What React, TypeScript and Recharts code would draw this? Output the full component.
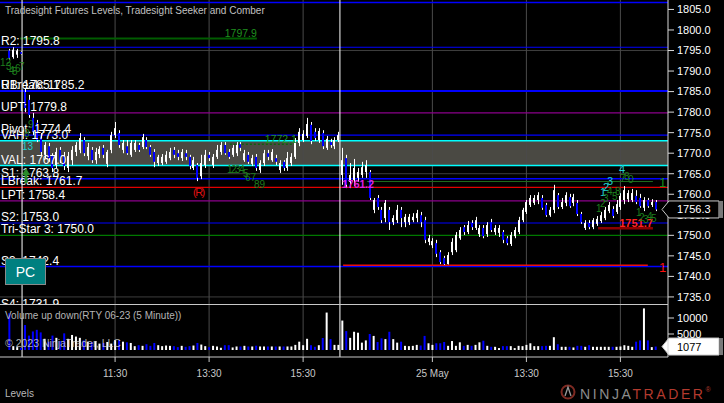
import { Bar, Cell, ComposedChart, ReferenceArea, ReferenceLine, XAxis, YAxis } from "recharts";

const FONT = '"Liberation Sans", Arial, sans-serif';
const BLUE = "#0000ff";
const PURPLE = "#8b008b";
const CYAN = "#00ffff";
const RED = "#e00000";
const GREEN = "#007800";
const NOTE_GREEN = "#1d7d1d";
const NOTE_CYAN = "#22d0d0";

// 5-minute RTY 06-23 bars; index 0 = 24 May 09:35, index 81 = 25 May 09:35
const FIRST_INDEX = -4;

// open, high, low, close
const CANDLES: [number, number, number, number][] = [
  [1795.0, 1795.4, 1792.8, 1793.2], [1793.4, 1795.8, 1793.0, 1795.2], [1794.0, 1795.4, 1793.2, 1795.0], [1794.6, 1794.8, 1794.0, 1794.2],
  [1784.9, 1785.9, 1780.0, 1781.0], [1783.0, 1784.2, 1778.6, 1779.3], [1778.6, 1779.8, 1774.4, 1775.2], [1777.4, 1778.1, 1772.7, 1773.2],
  [1773.7, 1774.9, 1769.3, 1770.3], [1769.6, 1772.7, 1768.8, 1772.0], [1771.7, 1772.5, 1767.9, 1768.8], [1769.3, 1770.0, 1765.4, 1766.4],
  [1767.1, 1771.3, 1766.4, 1770.3], [1770.8, 1771.5, 1767.6, 1768.3], [1769.3, 1770.3, 1765.9, 1766.9], [1766.4, 1770.3, 1765.4, 1769.3],
  [1768.3, 1771.7, 1767.1, 1770.8], [1770.3, 1772.7, 1769.3, 1772.0], [1770.8, 1774.9, 1770.0, 1773.7], [1773.2, 1773.9, 1769.3, 1770.0],
  [1769.3, 1772.5, 1768.3, 1771.5], [1770.8, 1771.5, 1767.6, 1768.3], [1768.3, 1771.3, 1767.4, 1770.3], [1769.8, 1771.7, 1768.8, 1771.0],
  [1771.3, 1772.0, 1768.8, 1769.6], [1767.4, 1770.8, 1766.6, 1770.3], [1770.8, 1775.2, 1770.0, 1774.4], [1774.4, 1777.6, 1773.7, 1776.1],
  [1774.9, 1775.6, 1771.3, 1772.0], [1770.8, 1773.2, 1770.0, 1772.5], [1771.7, 1773.2, 1769.6, 1770.0], [1769.6, 1773.2, 1769.1, 1772.5],
  [1770.8, 1773.2, 1770.3, 1772.5], [1772.0, 1772.5, 1770.3, 1770.8], [1771.5, 1774.7, 1771.0, 1773.9], [1773.2, 1773.9, 1771.0, 1771.5],
  [1771.5, 1772.0, 1769.1, 1769.6], [1770.3, 1771.0, 1766.6, 1767.9], [1767.6, 1769.6, 1766.9, 1769.1], [1767.6, 1769.8, 1767.1, 1769.1],
  [1767.9, 1770.5, 1767.4, 1769.6], [1768.8, 1771.3, 1768.3, 1770.3], [1770.8, 1771.5, 1768.8, 1769.6], [1770.0, 1770.8, 1768.3, 1769.1],
  [1768.8, 1771.0, 1768.1, 1770.3], [1770.0, 1770.8, 1768.3, 1769.1], [1769.1, 1769.6, 1766.1, 1766.9], [1766.4, 1769.1, 1765.9, 1768.3],
  [1767.1, 1767.6, 1763.2, 1764.0], [1764.4, 1769.6, 1763.7, 1767.6], [1767.1, 1770.8, 1766.4, 1769.6], [1769.6, 1770.3, 1768.1, 1768.8],
  [1767.1, 1769.8, 1766.4, 1769.1], [1769.1, 1772.0, 1768.6, 1770.8], [1770.3, 1772.7, 1769.6, 1772.0], [1772.0, 1772.7, 1769.6, 1770.0],
  [1770.3, 1771.0, 1768.6, 1769.1], [1769.6, 1772.0, 1769.1, 1771.3], [1770.0, 1772.7, 1769.3, 1772.0], [1772.2, 1772.7, 1770.5, 1771.3],
  [1768.3, 1770.8, 1767.9, 1770.0], [1769.6, 1770.3, 1767.4, 1767.9], [1767.4, 1769.6, 1766.9, 1768.8], [1769.1, 1769.8, 1765.7, 1766.4],
  [1765.9, 1768.3, 1765.2, 1767.6], [1767.6, 1770.8, 1766.9, 1770.0], [1770.0, 1770.8, 1768.3, 1769.1], [1768.3, 1771.0, 1767.9, 1770.3],
  [1768.8, 1769.6, 1767.1, 1767.9], [1765.9, 1768.3, 1765.2, 1767.6], [1767.9, 1768.3, 1765.7, 1766.4], [1766.4, 1770.3, 1765.7, 1768.8],
  [1767.6, 1770.0, 1766.9, 1769.1], [1769.1, 1773.7, 1768.6, 1772.7], [1772.5, 1776.1, 1771.7, 1775.2], [1773.2, 1775.6, 1772.7, 1774.7],
  [1774.2, 1778.6, 1773.7, 1777.1], [1776.9, 1777.6, 1772.2, 1773.0], [1775.2, 1776.1, 1773.0, 1773.7], [1773.2, 1776.1, 1772.5, 1775.4],
  [1774.9, 1775.6, 1771.0, 1771.7], [1771.3, 1774.2, 1770.8, 1773.5], [1772.7, 1773.5, 1771.3, 1772.0], [1771.7, 1773.9, 1771.0, 1773.2],
  [1773.2, 1775.2, 1772.7, 1774.4],
  [1764.7, 1771.3, 1762.3, 1768.3], [1768.8, 1769.6, 1761.5, 1762.3], [1763.0, 1767.6, 1761.5, 1764.7], [1763.5, 1768.6, 1762.0, 1766.4],
  [1764.0, 1766.4, 1763.0, 1765.4], [1764.7, 1767.9, 1764.0, 1766.6], [1765.4, 1768.3, 1764.0, 1767.1], [1765.4, 1765.9, 1758.6, 1759.1],
  [1756.2, 1759.1, 1755.4, 1758.6], [1759.1, 1759.8, 1756.2, 1756.9], [1756.2, 1756.9, 1753.0, 1753.7], [1754.2, 1758.6, 1753.2, 1757.9],
  [1756.2, 1756.9, 1751.3, 1753.2], [1753.2, 1754.9, 1752.5, 1754.2], [1753.7, 1757.4, 1753.0, 1756.2], [1756.2, 1756.9, 1752.0, 1754.2],
  [1753.2, 1755.2, 1752.0, 1754.5], [1753.2, 1755.2, 1752.5, 1754.5], [1753.7, 1755.4, 1753.2, 1754.5], [1754.2, 1756.2, 1753.2, 1755.4],
  [1754.9, 1755.7, 1752.0, 1753.2], [1753.7, 1754.5, 1748.1, 1748.9], [1748.4, 1750.1, 1747.6, 1749.3], [1747.6, 1749.3, 1746.9, 1748.6],
  [1748.1, 1748.9, 1744.7, 1745.5], [1745.9, 1746.4, 1743.0, 1743.5], [1744.5, 1745.0, 1742.8, 1743.0], [1743.0, 1745.9, 1742.9, 1745.2],
  [1745.9, 1749.3, 1745.2, 1748.4], [1746.4, 1750.8, 1745.9, 1750.1], [1749.3, 1752.0, 1748.9, 1751.3], [1752.0, 1752.5, 1750.1, 1750.8],
  [1750.8, 1753.5, 1750.3, 1752.5], [1753.0, 1753.7, 1751.3, 1752.0], [1751.8, 1754.5, 1751.3, 1753.7], [1750.3, 1752.5, 1749.6, 1751.8],
  [1751.8, 1752.5, 1749.3, 1749.8], [1750.3, 1753.2, 1749.6, 1752.5], [1753.2, 1754.0, 1750.8, 1751.3], [1750.8, 1752.5, 1750.1, 1751.8],
  [1750.6, 1752.5, 1749.6, 1751.8], [1750.8, 1751.3, 1748.1, 1748.9], [1749.3, 1749.8, 1747.6, 1748.1], [1747.9, 1750.8, 1747.4, 1750.1],
  [1749.8, 1752.0, 1749.3, 1751.3], [1750.8, 1754.5, 1750.3, 1753.7], [1753.7, 1756.7, 1753.2, 1756.2], [1755.7, 1758.6, 1755.2, 1758.1],
  [1757.4, 1759.8, 1756.9, 1759.1], [1757.9, 1759.8, 1757.4, 1759.1], [1758.6, 1760.5, 1757.6, 1759.8], [1759.1, 1759.8, 1756.2, 1756.7],
  [1757.4, 1757.9, 1754.5, 1754.9], [1754.9, 1756.9, 1754.5, 1756.2], [1756.2, 1762.3, 1755.4, 1761.0], [1759.8, 1760.3, 1756.4, 1756.9],
  [1756.9, 1759.1, 1756.4, 1758.1], [1757.9, 1760.5, 1757.1, 1759.8], [1759.3, 1760.1, 1756.7, 1757.1], [1757.9, 1760.1, 1757.1, 1759.3],
  [1757.9, 1758.6, 1754.7, 1755.2], [1755.2, 1755.7, 1752.8, 1753.2], [1751.8, 1753.7, 1751.3, 1753.0], [1753.0, 1753.7, 1751.5, 1752.0],
  [1752.0, 1754.2, 1751.5, 1753.7], [1752.8, 1754.7, 1752.3, 1754.0], [1753.5, 1755.7, 1753.0, 1754.9], [1754.2, 1756.9, 1753.7, 1756.2],
  [1755.9, 1758.1, 1755.4, 1757.4], [1756.4, 1757.1, 1754.2, 1754.7], [1755.7, 1758.6, 1755.2, 1757.6], [1756.9, 1760.3, 1756.2, 1759.6],
  [1758.6, 1762.0, 1757.6, 1761.0], [1758.8, 1761.0, 1758.1, 1760.3], [1758.6, 1761.3, 1758.1, 1760.3], [1759.6, 1761.0, 1757.6, 1758.1],
  [1759.1, 1760.1, 1756.7, 1757.1], [1756.7, 1759.3, 1755.9, 1758.6], [1758.6, 1759.1, 1756.7, 1757.1], [1757.4, 1758.8, 1756.9, 1758.1],
  [1758.1, 1758.6, 1755.9, 1756.3],
];

const VOLUMES = [
  11500, 1200, 900, 700,
  7800, 4500, 5800, 6300, 5500, 3500, 2600, 4500, 3800, 2800, 5200, 3500, 4700, 4200, 3800, 3000,
  2600, 2500, 2800, 2000, 2200, 2500, 2000, 3100, 3100, 2600, 2400, 2200, 1200, 1500, 1300, 1800,
  1300, 2200, 1500, 1200, 1400, 1300, 1200, 900, 1300, 1000, 1200, 1400, 2200, 1700, 1200, 900,
  1300, 1100, 700, 1500, 1500, 800, 1100, 1100, 1300, 1100, 1100, 1300, 1100, 1100, 1100, 1100,
  1100, 1100, 1100, 1100, 1100, 1600, 2600, 1500, 3500, 1500, 1000, 1500, 3750, 11700, 3400, 1600,
  1600,
  9200, 5900, 3800, 5700, 5400, 2300, 3000, 5000, 4400, 2500, 3650, 3400, 5700, 3400, 2300, 2600,
  1300, 1200, 1300, 1600, 1400, 4400, 2100, 1600, 2100, 2100, 2500, 1300, 2800, 1300, 2400, 1300,
  1600, 1300, 1600, 2400, 2900, 1300, 1000, 1000, 600, 1200, 1200, 1200, 600, 1300, 1200, 1600,
  2100, 1200, 1200, 1200, 1300, 1300, 4000, 1800, 1000, 1000, 1000, 800, 1300, 1300, 1000, 1500,
  1000, 1000, 1000, 1000, 1000, 1000, 1000, 1100, 1500, 1300, 1000, 2600, 3000, 13000, 3000, 900,
  1077,
];

const TIME_TICKS = [23, 47, 71, 104, 128, 152];
const TIME_LABELS = ["11:30", "13:30", "15:30", "25 May", "13:30", "15:30"];
const SESSION_STARTS = [-0.75, 80.4];
const PRICE_TICKS = [1735, 1740, 1745, 1750, 1755, 1760, 1765, 1770, 1775, 1780, 1785, 1790, 1795, 1800, 1805];
const GRID_PRICES = [1735, 1765, 1795];
const VOLUME_TICKS = [5000, 10000];

const VALUE_AREA = { low: 1767.0, high: 1773.0 };

const LEVELS = [
  { p: 1806.7, name: "", color: BLUE, w: 1.5 },
  { p: 1795.8, name: "R2", color: BLUE, w: 1.2 },
  { p: 1785.1, name: "R1", color: BLUE, w: 1.5 },
  { p: 1785.2, name: "UBreak", color: BLUE, w: 1.5 },
  { p: 1779.8, name: "UPT", color: PURPLE, w: 1.2 },
  { p: 1774.4, name: "Pivot", color: BLUE, w: 1.2 },
  { p: 1773.0, name: "VAH", color: CYAN, w: 1.5 },
  { p: 1767.0, name: "VAL", color: CYAN, w: 1.5 },
  { p: 1763.8, name: "S1", color: BLUE, w: 1.5 },
  { p: 1761.7, name: "LBreak", color: RED, w: 1.2 },
  { p: 1758.4, name: "LPT", color: PURPLE, w: 1.2 },
  { p: 1753.0, name: "S2", color: BLUE, w: 1.2 },
  { p: 1750.0, name: "Tri-Star 3", color: GREEN, w: 1.2 },
  { p: 1742.4, name: "S3", color: BLUE, w: 1.5 },
  { p: 1731.9, name: "S4", color: BLUE, w: 1.5 },
];

// Seeker / Comber lines drawn over part of the session
const SEGMENTS = [
  { p: 1797.9, from: -1.3, to: 59.2, color: "#005c00", w: 2, dash: "", text: "1797.9", textColor: "#1f8f1f", bold: false },
  { p: 1772.2, from: 52.3, to: 69.4, color: "#0e600e", w: 1.5, dash: "2 2", text: "1772.1", textColor: "#1f8f1f", bold: false },
  { p: 1761.2, from: -6.4, to: 88, color: "#8e008e", w: 2.5, dash: "2 2", text: "", textColor: "", bold: false },
  { p: 1763.1, from: 87.3, to: 160.3, color: "#1d6b1d", w: 1, dash: "", text: "", textColor: "", bold: false },
  { p: 1742.7, from: 81.2, to: 159, color: "#e81010", w: 1.5, dash: "", text: "", textColor: "", bold: false },
  { p: 1751.7, from: 146.3, to: 160.3, color: "#8b0000", w: 2.5, dash: "", text: "1751.7", textColor: "#ff2020", bold: true },
];

const NOTES = [
  { x: 0, y: 66, t: "12", c: NOTE_GREEN, s: 10 },
  { x: 6, y: 70, t: "3", c: NOTE_GREEN, s: 10 },
  { x: 9, y: 74, t: "4", c: NOTE_GREEN, s: 10 },
  { x: 12, y: 75, t: "5", c: NOTE_GREEN, s: 10 },
  { x: 15, y: 72, t: "6", c: NOTE_GREEN, s: 10 },
  { x: 19, y: 70, t: "7", c: NOTE_GREEN, s: 10 },
  { x: 28, y: 128, t: "9", c: NOTE_GREEN, s: 10 },
  { x: 24, y: 137, t: "8", c: NOTE_GREEN, s: 10 },
  { x: 22, y: 150, t: "13", c: NOTE_CYAN, s: 10 },
  { x: 227, y: 173, t: "1234", c: NOTE_GREEN, s: 10 },
  { x: 243, y: 177, t: "5", c: NOTE_GREEN, s: 10 },
  { x: 245, y: 181, t: "67", c: NOTE_GREEN, s: 10 },
  { x: 254, y: 188, t: "89", c: NOTE_GREEN, s: 10 },
  { x: 193, y: 196, t: "(R)", c: "#e01010", s: 11 },
  { x: 619, y: 173, t: "4", c: NOTE_CYAN, s: 11 },
  { x: 620, y: 182, t: "7", c: NOTE_GREEN, s: 10 },
  { x: 624, y: 180, t: "8", c: NOTE_GREEN, s: 10 },
  { x: 628, y: 183, t: "0", c: NOTE_GREEN, s: 10 },
  { x: 607, y: 185, t: "3", c: NOTE_CYAN, s: 11 },
  { x: 603, y: 191, t: "2", c: NOTE_CYAN, s: 11 },
  { x: 600, y: 196, t: "1", c: NOTE_CYAN, s: 11 },
  { x: 607, y: 195, t: "4", c: NOTE_GREEN, s: 10 },
  { x: 615, y: 195, t: "8", c: NOTE_GREEN, s: 10 },
  { x: 603, y: 202, t: "3", c: NOTE_GREEN, s: 10 },
  { x: 612, y: 200, t: "5", c: NOTE_GREEN, s: 10 },
  { x: 600, y: 207, t: "2", c: NOTE_GREEN, s: 10 },
  { x: 596, y: 212, t: "1", c: NOTE_GREEN, s: 10 },
  { x: 636, y: 216, t: "1", c: NOTE_GREEN, s: 10 },
  { x: 639, y: 221, t: "2", c: NOTE_GREEN, s: 10 },
  { x: 643, y: 223, t: "3", c: NOTE_GREEN, s: 10 },
  { x: 647, y: 220, t: "4", c: NOTE_GREEN, s: 10 },
  { x: 651, y: 222, t: "5", c: NOTE_GREEN, s: 10 },
  { x: 659, y: 187, t: "1", c: "#1a8a1a", s: 13 },
  { x: 659, y: 272, t: "1", c: "#ff1010", s: 13 },
];

const rows = CANDLES.map((k, n) => ({
  i: n + FIRST_INDEX,
  o: k[0],
  h: k[1],
  l: k[2],
  c: k[3],
  range: [k[2], k[1]],
  v: VOLUMES[n],
}));
const last = rows[rows.length - 1];

const W = 724;
const PRICE_H = 304;
const VOL_H = 99;
const X_DOMAIN: [number, number] = [-6.38, 164.15];
const PRICE_DOMAIN: [number, number] = [1733.28, 1807.3];
const VOLUME_DOMAIN: [number, number] = [-2187.5, 14375];
const hiddenMargin = { top: 0, right: 56, bottom: 0, left: 0 };

function Candle(props: any) {
  const { x, y, width, height, payload } = props;
  if (!payload || height == null) return null;
  const { o, h, l, c } = payload;
  const cx = Math.round(x + width / 2);
  const span = h - l || 1;
  const py = (v: number) => y + ((h - v) / span) * height;
  const top = py(Math.max(o, c));
  const bot = py(Math.min(o, c));
  return (
    <g>
      <rect x={cx} y={y} width={1} height={Math.max(1, height)} fill="#ffffff" />
      <rect x={cx - 1} y={top} width={2} height={Math.max(1, bot - top)} fill={c >= o ? "#ffffff" : BLUE} />
    </g>
  );
}

const levelLabel = (text: string) => (p: any) => {
  const vb = p.viewBox || { x: 0, y: 0 };
  return (
    <text x={vb.x + 1} y={vb.y - 2} fill="#ffffff" fontSize={12}>
      {text}
    </text>
  );
};

const endLabel = (text: string, fill: string, bold: boolean) => (p: any) => {
  const vb = p.viewBox || { x: 0, y: 0, width: 0 };
  return (
    <text
      x={vb.x + vb.width}
      y={vb.y - 1.5}
      fill={fill}
      fontSize={bold ? 11 : 10.5}
      fontWeight={bold ? 700 : 400}
      textAnchor="end"
    >
      {text}
    </text>
  );
};

const axisMarker = (text: string, boxFill: string, textFill: string) => (p: any) => {
  const vb = p.viewBox || { x: 0, y: 0, width: 0 };
  const r = vb.x + vb.width;
  const y = vb.y;
  return (
    <g>
      <polygon
        points={`${r - 6},${y} ${r + 1},${y - 8.5} ${r + 51},${y - 8.5} ${r + 51},${y + 8.5} ${r + 1},${y + 8.5}`}
        fill={boxFill}
        stroke="#c8c8c8"
      />
      <rect x={r + 51} y={y - 8.5} width={4} height={17} fill="#7a7a7a" />
      <text x={r + 9} y={y + 4} fill={textFill} fontSize={11}>
        {text}
      </text>
    </g>
  );
};

function PriceBack() {
  return (
    <ComposedChart width={W} height={PRICE_H} data={rows} margin={hiddenMargin}>
      <XAxis type="number" dataKey="i" domain={X_DOMAIN} allowDataOverflow hide />
      <YAxis orientation="right" domain={PRICE_DOMAIN} allowDataOverflow hide />
      <ReferenceArea y1={VALUE_AREA.low} y2={VALUE_AREA.high} fill="#4a4943" fillOpacity={1} stroke="none" />
      {GRID_PRICES.map((g) => (
        <ReferenceLine key={"g" + g} y={g} stroke="#3e3e3e" />
      ))}
      {TIME_TICKS.map((t) => (
        <ReferenceLine key={"t" + t} x={t} stroke="#4a4a4a" />
      ))}
      {LEVELS.map((lv) => (
        <ReferenceLine key={lv.name + lv.p} y={lv.p} stroke={lv.color} strokeWidth={lv.w} />
      ))}
      {SEGMENTS.map((s) => (
        <ReferenceLine
          key={"s" + s.p}
          segment={[
            { x: s.from, y: s.p },
            { x: s.to, y: s.p },
          ]}
          stroke={s.color}
          strokeWidth={s.w}
          strokeDasharray={s.dash || undefined}
        />
      ))}
      {SESSION_STARTS.map((s) => (
        <ReferenceLine key={"d" + s} x={s} stroke="#ffffff" />
      ))}
    </ComposedChart>
  );
}

function PriceCandles() {
  return (
    <ComposedChart width={W} height={PRICE_H} data={rows} margin={hiddenMargin}>
      <XAxis type="number" dataKey="i" domain={X_DOMAIN} allowDataOverflow hide />
      <YAxis orientation="right" domain={PRICE_DOMAIN} allowDataOverflow hide />
      <Bar dataKey="range" barSize={2} shape={Candle} isAnimationActive={false} />
    </ComposedChart>
  );
}

function PriceFront() {
  return (
    <ComposedChart width={W} height={PRICE_H} data={rows} margin={{ top: 0, right: 0, bottom: 0, left: 0 }}>
      <XAxis type="number" dataKey="i" domain={X_DOMAIN} allowDataOverflow hide />
      <YAxis
        orientation="right"
        width={56}
        domain={PRICE_DOMAIN}
        allowDataOverflow
        ticks={PRICE_TICKS}
        interval={0}
        tickFormatter={(v: number) => v.toFixed(1)}
        tick={{ fill: "#ffffff", fontSize: 11 }}
        tickSize={6}
        tickMargin={3}
        tickLine={{ stroke: "#d8d8d8" }}
        axisLine={{ stroke: "#d8d8d8" }}
      />
      {LEVELS.filter((lv) => lv.name).map((lv) => (
        <ReferenceLine
          key={"l" + lv.name}
          y={lv.p}
          stroke="none"
          ifOverflow="visible"
          label={levelLabel(`${lv.name}: ${lv.p.toFixed(1)}`)}
        />
      ))}
      {SEGMENTS.filter((s) => s.text).map((s) => (
        <ReferenceLine
          key={"sl" + s.p}
          segment={[
            { x: s.from, y: s.p },
            { x: s.to, y: s.p },
          ]}
          stroke="none"
          label={endLabel(s.text, s.textColor, s.bold)}
        />
      ))}
    </ComposedChart>
  );
}

function PriceMarker() {
  return (
    <ComposedChart width={W} height={PRICE_H} data={rows} margin={hiddenMargin}>
      <XAxis type="number" dataKey="i" domain={X_DOMAIN} allowDataOverflow hide />
      <YAxis orientation="right" domain={PRICE_DOMAIN} allowDataOverflow hide />
      <ReferenceLine y={last.c} stroke="none" label={axisMarker(last.c.toFixed(1), "#000000", "#ffffff")} />
    </ComposedChart>
  );
}

function VolumeBack() {
  return (
    <ComposedChart width={W} height={VOL_H} data={rows} margin={{ top: 0, right: 56, bottom: 46, left: 0 }}>
      <XAxis type="number" dataKey="i" domain={X_DOMAIN} allowDataOverflow hide />
      <YAxis orientation="right" domain={VOLUME_DOMAIN} allowDataOverflow hide />
      {TIME_TICKS.map((t) => (
        <ReferenceLine key={"vt" + t} x={t} stroke="#4a4a4a" />
      ))}
      {SESSION_STARTS.map((s) => (
        <ReferenceLine key={"vd" + s} x={s} stroke="#ffffff" />
      ))}
    </ComposedChart>
  );
}

function VolumeFront() {
  return (
    <ComposedChart width={W} height={VOL_H} data={rows} margin={{ top: 0, right: 0, bottom: 0, left: 0 }}>
      <XAxis
        type="number"
        dataKey="i"
        domain={X_DOMAIN}
        allowDataOverflow
        ticks={TIME_TICKS}
        interval={0}
        height={46}
        tickFormatter={(v: number) => TIME_LABELS[TIME_TICKS.indexOf(v)] ?? ""}
        tick={{ fill: "#c8c8c8", fontSize: 10 }}
        tickSize={5}
        tickMargin={8}
        tickLine={{ stroke: "#c8c8c8" }}
        axisLine={{ stroke: "#c8c8c8" }}
      />
      <YAxis
        orientation="right"
        width={56}
        domain={VOLUME_DOMAIN}
        allowDataOverflow
        ticks={VOLUME_TICKS}
        interval={0}
        tick={{ fill: "#ffffff", fontSize: 11 }}
        tickSize={6}
        tickMargin={3}
        tickLine={{ stroke: "#d8d8d8" }}
        axisLine={{ stroke: "#d8d8d8" }}
      />
      <Bar dataKey="v" barSize={2} isAnimationActive={false}>
        {rows.map((r) => (
          <Cell key={r.i} fill={r.c >= r.o ? "#ffffff" : BLUE} />
        ))}
      </Bar>
      <ReferenceLine y={last.v} stroke="none" label={axisMarker(String(last.v), "#ffffff", "#000000")} />
    </ComposedChart>
  );
}

function Overlay() {
  return (
    <svg width={W} height={403} style={{ position: "absolute", left: 0, top: 0, pointerEvents: "none" }}>
      <text x={5} y={14} fill="#c0c0c0" fontSize={10}>
        Tradesight Futures Levels, Tradesight Seeker and Comber
      </text>
      {NOTES.map((n, k) => (
        <text key={k} x={n.x} y={n.y} fill={n.c} fontSize={n.s} letterSpacing={n.t.length > 2 ? -1.5 : 0}>
          {n.t}
        </text>
      ))}
      <text x={342} y={188} fill="#e020e0" fontSize={10.5} fontWeight={700}>
        1761.2
      </text>
      {/* Seeker arrow */}
      <polygon points="22,175 26,168 30,175" fill="#2a8a2a" />
      <rect x={24.5} y={175} width={3} height={8} fill="#2a8a2a" />
      {/* PC button */}
      <rect x={5.5} y={258.5} width={40} height={26} fill="#008080" stroke="#8a8a8a" />
      <text x={25.5} y={277} fill="#ffffff" fontSize={14} textAnchor="middle">
        PC
      </text>
      <text x={5} y={319} fill="#b4b4b4" fontSize={10}>
        Volume up down(RTY 06-23 (5 Minute))
      </text>
      <text x={5} y={347} fill="#d0d0d0" fillOpacity={0.85} fontSize={10.5}>
        © 2023 NinjaTrader, LLC
      </text>
      <text x={5} y={397} fill="#b8b8b8" fontSize={10}>
        Levels
      </text>
      <circle cx={568} cy={392} r={6.5} fill="none" stroke="#7d2a22" strokeWidth={2} />
      <path d="M565,396 L568,387 L571,396" fill="none" stroke="#9a9a9a" strokeWidth={1.3} />
      <text x={580} y={399} fontSize={14} letterSpacing={2.6} fontWeight={300}>
        <tspan fill="#8c8c8c">NINJA</tspan>
        <tspan fill="#b33a2e">TRADER</tspan>
        <tspan fill="#b33a2e" fontSize={7} dy={-7}>
          ®
        </tspan>
      </text>
    </svg>
  );
}

export default function App() {
  const layer = (top: number) => ({ position: "absolute" as const, left: 0, top });
  return (
    <div
      style={{
        position: "absolute",
        left: 0,
        top: 0,
        width: W,
        height: 403,
        background: "#000000",
        overflow: "hidden",
        fontFamily: FONT,
      }}
    >
      <div style={layer(0)}>
        <PriceBack />
      </div>
      <div style={layer(0)}>
        <PriceCandles />
      </div>
      <div style={layer(0)}>
        <PriceFront />
      </div>
      <div style={layer(0)}>
        <PriceMarker />
      </div>
      <div style={layer(PRICE_H)}>
        <VolumeBack />
      </div>
      <div style={layer(PRICE_H)}>
        <VolumeFront />
      </div>
      <div style={{ position: "absolute", left: 0, top: PRICE_H, width: 668, height: 1, background: "#c8c8c8" }} />
      <Overlay />
    </div>
  );
}
